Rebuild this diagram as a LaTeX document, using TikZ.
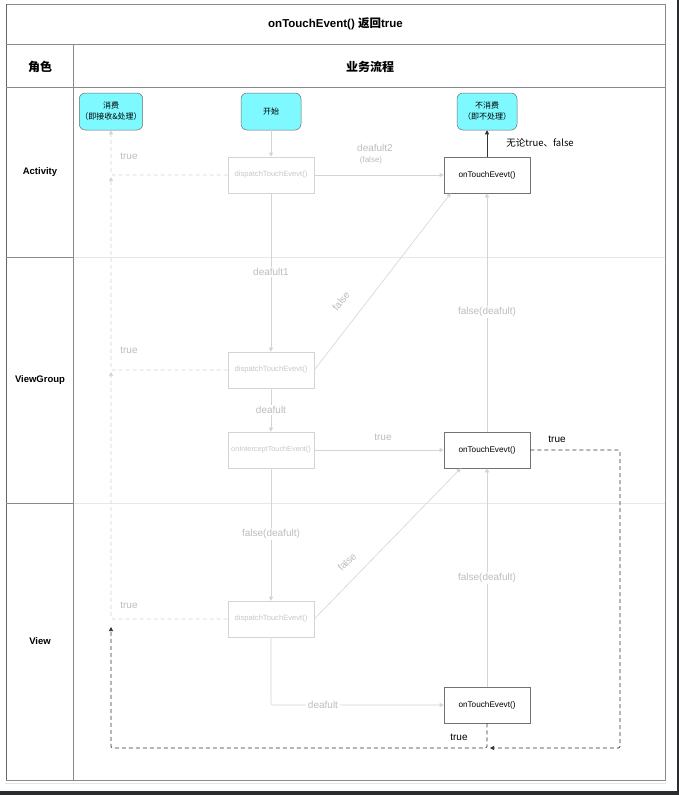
\documentclass[tikz,border=0pt]{standalone}
\usepackage{fontspec}
\setmainfont{Liberation Sans}
\newfontfamily\cjk{Noto Sans CJK SC}
\usetikzlibrary{arrows.meta}
\definecolor{lgline}{HTML}{D4D4D4}
\definecolor{lgtext}{HTML}{BDBDBD}
\definecolor{boxtext}{HTML}{C8C8C8}
\definecolor{frame}{HTML}{8A8A8A}
\definecolor{lanesep}{HTML}{E8E8E8}
\definecolor{cyanfill}{HTML}{7DF9FF}
\definecolor{darkbar}{HTML}{2A2C2E}
\tikzset{
  lbox/.style={draw=lgline, line width=0.6pt, minimum width=86pt, minimum height=36pt, inner sep=1pt, text=boxtext, font=\fontsize{7.6}{9}\selectfont},
  dbox/.style={draw=gray!90!black, line width=0.6pt, minimum width=86pt, minimum height=36pt, inner sep=1pt, text=black, font=\fontsize{8.2}{9}\selectfont},
  cbox/.style={draw=gray!85!black, line width=0.5pt, rounded corners=6pt, fill=cyanfill, minimum width=60pt, minimum height=37pt, inner sep=1pt, align=center, font=\cjk\fontsize{8}{11}\selectfont},
  lline/.style={draw=lgline, line width=0.6pt, -{Triangle[length=4pt,width=4pt]}},
  dline/.style={draw=lgline, line width=0.7pt, dash pattern=on 4pt off 3pt, rounded corners=1.5pt},
  bline/.style={draw=black!80, line width=0.7pt, dash pattern=on 4pt off 3pt, rounded corners=1.5pt},
  lbl/.style={text=lgtext, fill=white, inner sep=1.5pt, font=\fontsize{10}{11}\selectfont},
  blbl/.style={text=black, inner sep=1pt, font=\fontsize{10}{11}\selectfont},
  lane/.style={font=\bfseries\fontsize{9.5}{11}\selectfont},
}
\begin{document}
\begin{tikzpicture}[x=1pt,y=-1pt]
\useasboundingbox (0,0) rectangle (679,795);
\fill[white] (0,0) rectangle (679,795);
% screenshot edges
\fill[darkbar] (0,791) rectangle (679,795);
\fill[darkbar] (677,0) rectangle (679,795);
\draw[black!10, line width=1pt] (5,783) -- (666,783);
% table frame
\draw[lanesep, line width=0.8pt] (73,257) -- (665,257);
\draw[lanesep, line width=0.8pt] (73,503) -- (665,503);
\draw[frame, line width=0.8pt] (6,4) rectangle (665,780);
\draw[black!60, line width=1pt] (6,4) -- (6,780);
\draw[frame, line width=0.8pt] (6,44) -- (665,44);
\draw[frame, line width=0.8pt] (6,87) -- (665,87);
\draw[frame, line width=0.8pt] (73,44) -- (73,780);
\draw[frame, line width=0.8pt] (6,257) -- (73,257);
\draw[frame, line width=0.8pt] (6,503) -- (73,503);
% header texts
\node[font=\bfseries\fontsize{11.5}{13}\selectfont] (title) at (335.5,24) {onTouchEvent() {\cjk 返回}true};
\node[font=\cjk\bfseries\fontsize{12}{13}\selectfont] (role) at (40,67) {角色};
\node[font=\cjk\bfseries\fontsize{12}{13}\selectfont] (flow) at (370,67) {业务流程};
\node[lane] (activity) at (40,172) {Activity};
\node[lane] (viewgroup) at (40,380) {ViewGroup};
\node[lane] (view) at (40,641) {View};
% nodes
\node[cbox] (consume) at (111,111.5) {消费\\（即接收\&处理）};
\node[cbox] (start) at (271,111.5) {开始};
\node[cbox] (noconsume) at (487,111.5) {不消费\\（即不处理）};
\node[lbox] (dA) at (271,175) {dispatchTouchEvevt()};
\node[dbox] (oA) at (487,175) {onTouchEvevt()};
\node[lbox] (dVG) at (271,370) {dispatchTouchEvevt()};
\node[lbox, font=\fontsize{7.3}{8}\selectfont] (iVG) at (271,450) {onInterceptTouchEvent()};
\node[dbox] (oVG) at (487,450) {onTouchEvevt()};
\node[lbox] (dV) at (271,619) {dispatchTouchEvevt()};
\node[dbox] (oV) at (487,705) {onTouchEvevt()};
% coordinates
\coordinate (jA) at (111,177);
\coordinate (jVG) at (111,372);
\coordinate (jV) at (111,627);
\coordinate (bl) at (111,748);
\coordinate (bm) at (487,748);
\coordinate (br) at (620,748);
\coordinate (tr) at (620,450);
\coordinate (bmend) at (490,748);
% light solid connectors
\draw[lline] (start) -- (dA);
\draw[lline] (dA) -- (oA);
\draw[lline] (dA) -- (dVG);
\draw[lline] (dVG.east) -- ([xshift=7pt]oA.south west);
\draw[lline] (dVG) -- (iVG);
\draw[lline] (iVG) -- (oVG);
\draw[lline] (iVG) -- (dV);
\draw[lline] (oVG) -- (oA);
\draw[lline] (dV.east) -- ([xshift=17pt]oVG.south west);
\draw[lline, rounded corners=2pt] (dV.south) |- (oV.west);
\draw[lline] (oV) -- (oVG);
% light dashed (true) connectors
\draw[dline, -{Triangle[length=4pt,width=4pt]}] (dA.west) -| (consume.south);
\draw[dline, -{Triangle[length=4pt,width=4pt]}] (dVG.west) -| (jA);
\draw[dline, -{Triangle[length=4pt,width=4pt]}] (dV.west) -| (jVG);
% black connectors
\draw[draw=black!80, line width=0.7pt, -{Triangle[length=4pt,width=4pt]}] (oA) -- (noconsume);
\draw[bline, -{Triangle[length=4pt,width=4pt]}] (oV.south) -- (bm) -- (bl) -- (jV);
\draw[bline, -{Triangle[length=4pt,width=4pt]}] (oVG.east) -- (tr) -- (br) -- (bmend);
% labels
\node[lbl, fill=none] (lt1) at (129,156) {true};
\node[lbl, fill=none] (lt2) at (129,350) {true};
\node[lbl, fill=none] (lt3) at (129,605) {true};
\node[lbl, fill=none] (ld2) at (375,148) {deafult2};
\node[lbl, fill=none, font=\fontsize{8}{9}\selectfont] (ld2b) at (371,160) {(false)};
\node[lbl] (ld1) at (271,272) {deafult1};
\node[lbl] (ld) at (271,410) {deafult};
\node[lbl, fill=none] (ltr) at (383,437) {true};
\node[lbl] (lfd1) at (271,534) {false(deafult)};
\node[lbl] (lfd2) at (487,312) {false(deafult)};
\node[lbl] (lfd3) at (487,578) {false(deafult)};
\node[lbl] (ldv) at (323,705) {deafult};
\node[lbl, fill=none, rotate=51, inner sep=0pt] (lf1) at (341,301) {false};
\node[lbl, fill=none, rotate=44, inner sep=0pt] (lf2) at (347,562) {false};
\node[blbl, font=\cjk\fontsize{9.5}{10}\selectfont] (lany) at (540,143) {无论true、false};
\node[blbl] (lbt1) at (557,439) {true};
\node[blbl] (lbt2) at (459,737) {true};
\end{tikzpicture}
\end{document}
